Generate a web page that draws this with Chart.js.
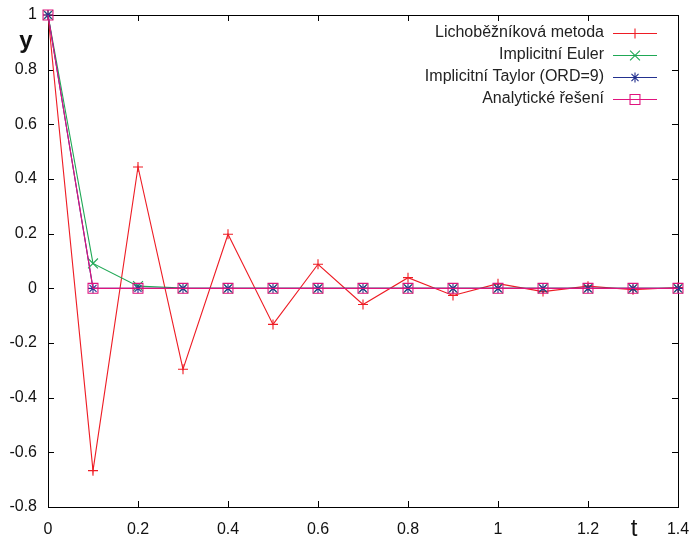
<!DOCTYPE html>
<html>
<head>
<meta charset="utf-8">
<script src="https://cdn.jsdelivr.net/npm/chart.js@4/dist/chart.umd.min.js"></script>
<style>
  html, body { margin: 0; padding: 0; background: #fff; }
  #wrap { width: 691px; height: 538px; }
</style>
</head>
<body>
<div id="wrap"><canvas id="c" width="691" height="538"></canvas></div>
<script>
// Time steps t_n (h = 0.1)
const tValues = [0, 0.1, 0.2, 0.3, 0.4, 0.5, 0.6, 0.7, 0.8, 0.9, 1.0, 1.1, 1.2, 1.3, 1.4];

// Numerical solutions of y' = -10 y, y(0) = 1
const trapezoid = [1, -0.667, 0.444, -0.296, 0.198, -0.132, 0.088, -0.059, 0.039, -0.026, 0.017, -0.012, 0.008, -0.005, 0.003];
const implicitEuler = [1, 0.091, 0.008, 0.001, 0, 0, 0, 0, 0, 0, 0, 0, 0, 0, 0];
const implicitTaylor = [1, 0, 0, 0, 0, 0, 0, 0, 0, 0, 0, 0, 0, 0, 0];
const analytic = [1, 0, 0, 0, 0, 0, 0, 0, 0, 0, 0, 0, 0, 0, 0];

const seriesNames = ['Lichoběžníková metoda', 'Implicitní Euler', 'Implicitní Taylor (ORD=9)', 'Analytické řešení'];
const xTicks = [0, 0.2, 0.4, 0.6, 0.8, 1, 1.2, 1.4];
const yTicks = [-0.8, -0.6, -0.4, -0.2, 0, 0.2, 0.4, 0.6, 0.8, 1];

const FONT = "'Liberation Sans', Arial, Helvetica, sans-serif";

function toPoints(ys) { return tValues.map((t, i) => ({ x: t, y: ys[i] })); }
function fmt(v) { return String(Number(v.toFixed(1))); }

function series(label, ys, color, style, radius, order) {
  return {
    label, data: toPoints(ys), borderColor: color, backgroundColor: 'transparent',
    borderWidth: 1.1, pointStyle: style, pointRadius: radius, pointBorderWidth: 1.1,
    pointBorderColor: color, pointBackgroundColor: 'transparent',
    pointHoverRadius: radius, tension: 0, order, clip: false
  };
}

function noPad(s) { s.paddingTop = 0; s.paddingBottom = 0; s.paddingLeft = 0; s.paddingRight = 0; }

// Box, inward ticks on all four sides, axis letters and the key
const framePlugin = {
  id: 'frame',
  beforeDatasetsDraw(chart) {
    const { ctx, chartArea: a, scales: { x, y } } = chart;
    ctx.save();
    ctx.strokeStyle = '#000';
    ctx.lineWidth = 1;
    ctx.strokeRect(Math.round(a.left) + 0.5, Math.round(a.top) + 0.5,
                   Math.round(a.right - a.left), Math.round(a.bottom - a.top));
    const L = 6;
    ctx.beginPath();
    xTicks.forEach(v => {
      const px = Math.round(x.getPixelForValue(v)) + 0.5;
      ctx.moveTo(px, a.bottom); ctx.lineTo(px, a.bottom - L);
      ctx.moveTo(px, a.top); ctx.lineTo(px, a.top + L);
    });
    yTicks.forEach(v => {
      const py = Math.round(y.getPixelForValue(v)) + 0.5;
      ctx.moveTo(a.left, py); ctx.lineTo(a.left + L, py);
      ctx.moveTo(a.right, py); ctx.lineTo(a.right - L, py);
    });
    ctx.stroke();
    ctx.restore();
  },
  afterDatasetsDraw(chart) {
    const { ctx } = chart;
    ctx.save();
    // axis letters
    ctx.fillStyle = '#111';
    ctx.textBaseline = 'alphabetic';
    ctx.textAlign = 'center';
    ctx.font = 'bold 24px ' + FONT;
    ctx.fillText('y', 26, 48);
    ctx.font = '24px ' + FONT;
    ctx.fillText('t', 634, 536);

    // key
    ctx.font = '16px ' + FONT;
    ctx.textBaseline = 'middle';
    ctx.textAlign = 'right';
    const rowY = [33, 55, 77, 99];
    chart.data.datasets.forEach((ds, i) => {
      const yy = rowY[i];
      ctx.fillStyle = '#222';
      ctx.fillText(ds.label, 604, yy);
      ctx.strokeStyle = ds.borderColor;
      ctx.lineWidth = 1.1;
      ctx.beginPath();
      ctx.moveTo(613, yy + 0.5); ctx.lineTo(657, yy + 0.5);
      ctx.stroke();
      ctx.fillStyle = 'rgba(0,0,0,0)';
      Chart.helpers.drawPoint(ctx, {
        pointStyle: ds.pointStyle, radius: ds.pointRadius, borderWidth: 1.1, rotation: 0
      }, 635, yy + 0.5);
    });
    ctx.restore();
  }
};

new Chart(document.getElementById('c'), {
  type: 'line',
  data: {
    datasets: [
      series(seriesNames[0], trapezoid, '#ee1c24', 'cross', 5, 4),
      series(seriesNames[1], implicitEuler, '#1fa855', 'crossRot', 7, 3),
      series(seriesNames[2], implicitTaylor, '#23318f', 'star', 5, 2),
      series(seriesNames[3], analytic, '#e0137e', 'rect', 7, 1)
    ]
  },
  options: {
    responsive: false,
    animation: false,
    devicePixelRatio: 1,
    layout: { padding: { top: 15, right: 13, left: 0, bottom: 0 } },
    plugins: { legend: { display: false }, tooltip: { enabled: false } },
    scales: {
      x: {
        type: 'linear', min: 0, max: 1.4,
        afterFit(s) { s.height = 31; noPad(s); },
        afterBuildTicks(s) { s.ticks = xTicks.map(v => ({ value: v })); },
        grid: { display: false, drawTicks: false },
        border: { display: false },
        ticks: { color: '#111', font: { family: FONT, size: 16 }, padding: 13, maxRotation: 0,
                 callback: v => fmt(v) }
      },
      y: {
        type: 'linear', min: -0.8, max: 1,
        afterFit(s) { s.width = 48; noPad(s); },
        afterBuildTicks(s) { s.ticks = yTicks.map(v => ({ value: v })); },
        grid: { display: false, drawTicks: false },
        border: { display: false },
        ticks: { color: '#111', font: { family: FONT, size: 16 }, padding: 11,
                 callback: v => fmt(v) }
      }
    }
  },
  plugins: [framePlugin]
});
</script>
</body>
</html>
